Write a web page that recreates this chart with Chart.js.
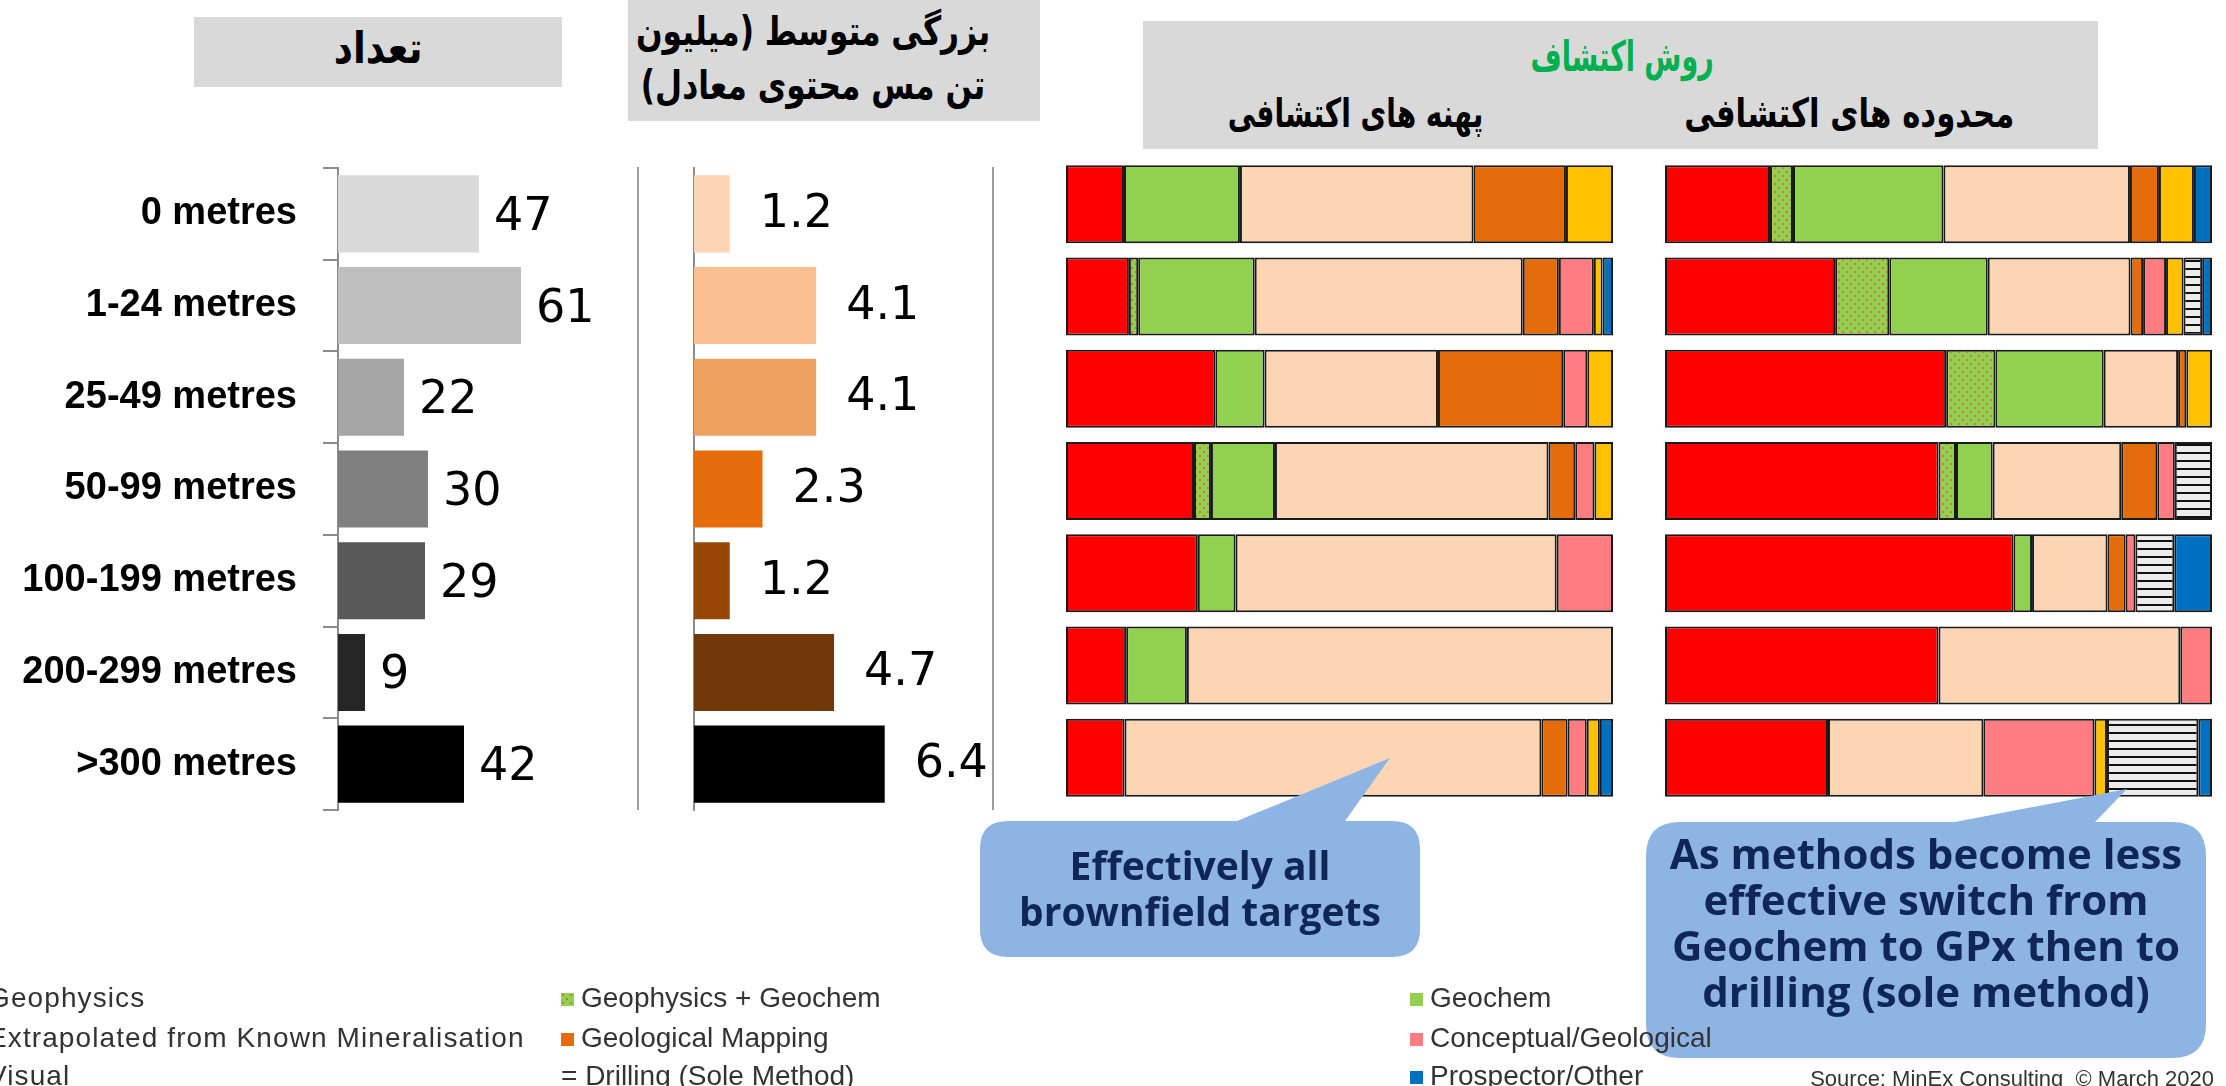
<!DOCTYPE html>
<html>
<head>
<meta charset="utf-8">
<script src="https://cdn.jsdelivr.net/npm/chart.js@4.4.1/dist/chart.umd.min.js"></script>
<style>
  body { margin: 0; width: 2226px; height: 1086px; overflow: hidden; background: #fff; position: relative; font-family: "Liberation Sans", Arial, sans-serif; }
  canvas { position: absolute; }
  .box { position: absolute; background: #d9d9d9; }
  .fa { position: absolute; font-family: "DejaVu Sans", sans-serif; font-weight: bold; direction: rtl; white-space: nowrap; text-align: center; color: #000; }
  .fa span { display: inline-block; }
  .sep { position: absolute; width: 2px; background: #9a9a9a; }
  .note { position: absolute; font-family: "Open Sans", sans-serif; font-weight: bold; color: #0f2657; text-align: center; white-space: nowrap; }
  .leg { position: absolute; font-size: 28px; color: #333; white-space: nowrap; line-height: 32px; }
  .leg i { display: inline-block; width: 13px; height: 13px; margin-right: 7px; vertical-align: 1px; }
  .wide { letter-spacing: 1.1px; }
</style>
</head>
<body>

<!-- headers -->
<div class="box" style="left:194px;top:17px;width:368px;height:70px;"></div>
<div class="fa" style="left:194px;top:22px;width:368px;font-size:44px;"><span style="transform:scaleX(0.85);">تعداد</span></div>

<div class="box" style="left:628px;top:0;width:412px;height:121px;"></div>
<div class="fa" style="left:628px;top:4px;width:412px;font-size:40px;line-height:54px;"><span style="transform:scaleX(0.78);">بزرگی متوسط (میلیون<br>تن مس محتوی معادل)</span></div>

<div class="box" style="left:1143px;top:21px;width:955px;height:128px;"></div>
<div class="fa" style="left:1422px;top:32px;width:400px;font-size:42px;color:#00b050;"><span style="transform:scaleX(0.64);">روش اکتشاف</span></div>
<div class="fa" style="left:1155px;top:90px;width:400px;font-size:40px;"><span style="transform:scaleX(0.7);">پهنه های اکتشافی</span></div>
<div class="fa" style="left:1664px;top:90px;width:400px;font-size:40px;"><span style="transform:scaleX(0.77);">محدوده های اکتشافی</span></div>

<!-- charts -->
<canvas id="countChart" width="640" height="660" style="left:0;top:160px;"></canvas>
<canvas id="sizeChart" width="352" height="660" style="left:640px;top:160px;"></canvas>
<div class="sep" style="left:637px;top:167px;height:643px;"></div>
<div class="sep" style="left:992px;top:167px;height:643px;"></div>
<canvas id="brownChart" width="555" height="662" style="left:1062px;top:150px;"></canvas>
<canvas id="greenChart" width="555" height="662" style="left:1661px;top:150px;"></canvas>

<!-- callouts -->
<svg style="position:absolute;left:0;top:0;" width="2226" height="1086">
  <path d="M1008,821 H1237 L1390,758 L1345,821 H1392 Q1420,821 1420,849 V929 Q1420,957 1392,957 H1008 Q980,957 980,929 V849 Q980,821 1008,821 Z" fill="#8eb4e3"/>
  <path d="M1680,822 H1955 L2127,789 L2095,822 H2172 Q2206,822 2206,856 V1024 Q2206,1058 2172,1058 H1680 Q1646,1058 1646,1024 V856 Q1646,822 1680,822 Z" fill="#8eb4e3"/>
</svg>
<div class="note" style="left:980px;top:842px;width:440px;font-size:39px;line-height:46px;">Effectively all<br>brownfield targets</div>
<div class="note" style="left:1646px;top:830px;width:560px;font-size:42px;line-height:46px;">As methods become less<br>effective switch from<br>Geochem to GPx then to<br>drilling (sole method)</div>

<!-- legend -->
<div class="leg wide" style="left:-32px;top:982px;"><i style="background:#ff0000"></i>Geophysics</div>
<div class="leg wide" style="left:-32px;top:1022px;"><i style="background:#fcd5b5"></i>Extrapolated from Known Mineralisation</div>
<div class="leg wide" style="left:-32px;top:1060px;"><i style="background:#ffc000"></i>Visual</div>
<div class="leg" style="left:561px;top:982px;"><i id="dotKey"></i>Geophysics + Geochem</div>
<div class="leg" style="left:561px;top:1022px;"><i style="background:#e46c0a"></i>Geological Mapping</div>
<div class="leg" style="left:561px;top:1060px;">= Drilling (Sole Method)</div>
<div class="leg" style="left:1410px;top:982px;"><i style="background:#92d050"></i>Geochem</div>
<div class="leg" style="left:1410px;top:1022px;"><i style="background:#ff7c80"></i>Conceptual/Geological</div>
<div class="leg" style="left:1410px;top:1060px;"><i style="background:#0070c0"></i>Prospector/Other</div>
<div class="leg" style="right:12px;top:1063px;font-size:22px;">Source: MinEx Consulting&nbsp; © March 2020</div>

<script>
// depth of cover classes
const depthLabels = ['0 metres', '1-24 metres', '25-49 metres', '50-99 metres', '100-199 metres', '200-299 metres', '>300 metres'];

// number of deposits and average size (Mt Cu-eq)
const depositCount = [47, 61, 22, 30, 29, 9, 42];
const avgSize = [1.2, 4.1, 4.1, 2.3, 1.2, 4.7, 6.4];

// discovery method shares (%) - brownfield (A) and greenfield (B)
const geophysicsA   = [10.6, 11.5, 27.3, 23.4, 24.1, 11.0, 10.7];
const geoGeochemA   = [0, 1.7, 0, 3.1, 0, 0, 0];
const geochemA      = [21.2, 21.3, 9.0, 11.7, 6.9, 11.1, 0];
const extrapolatedA = [42.7, 49.0, 31.7, 50.0, 58.7, 77.9, 76.2];
const mappingA      = [16.9, 6.6, 22.9, 4.9, 0, 0, 4.8];
const conceptualA   = [0, 6.4, 4.4, 3.5, 10.3, 0, 3.5];
const visualA       = [8.6, 1.6, 4.7, 3.4, 0, 0, 2.4];
const drillingA     = [0, 0, 0, 0, 0, 0, 0];
const prospectorA   = [0, 1.9, 0, 0, 0, 0, 2.4];

const geophysicsB   = [19.2, 31.1, 51.4, 50.0, 63.7, 50.0, 29.8];
const geoGeochemB   = [4.2, 9.9, 9.0, 3.2, 0, 0, 0];
const geochemB      = [27.5, 18.0, 19.8, 6.7, 3.4, 0, 0];
const extrapolatedB = [34.1, 26.1, 13.6, 23.5, 13.8, 44.2, 28.4];
const mappingB      = [5.3, 2.3, 1.5, 6.6, 3.3, 0, 0];
const conceptualB   = [0, 4.2, 0, 3.2, 1.8, 5.8, 20.3];
const visualB       = [6.4, 3.2, 4.7, 0, 0, 0, 2.3];
const drillingB     = [0, 3.4, 0, 6.8, 7.1, 0, 16.7];
const prospectorB   = [3.3, 1.8, 0, 0, 6.9, 0, 2.5];

const methodNames = ['Geophysics', 'Geophysics + Geochem', 'Geochem', 'Extrapolated from Known Mineralisation',
  'Geological Mapping', 'Conceptual/Geological', 'Visual', 'Drilling (Sole Method)', 'Prospector/Other'];

const countColors = ['#d9d9d9', '#bfbfbf', '#a6a6a6', '#808080', '#595959', '#262626', '#000000'];
const sizeColors = ['#fcd5b5', '#fac090', '#eda060', '#e46c0a', '#974806', '#71380a', '#000000'];

// hatch fills
function dotPattern() {
    const c = document.createElement('canvas');
    c.width = 8; c.height = 8;
    const g = c.getContext('2d');
    g.fillStyle = '#92d050';
    g.fillRect(0, 0, 8, 8);
    g.fillStyle = '#e2602c';
    [[2, 2], [6, 6]].forEach(p => { g.beginPath(); g.arc(p[0], p[1], 1.1, 0, Math.PI * 2); g.fill(); });
    return c;
}
function stripePattern() {
    const c = document.createElement('canvas');
    c.width = 8; c.height = 8;
    const g = c.getContext('2d');
    g.fillStyle = '#ececec';
    g.fillRect(0, 0, 8, 8);
    g.fillStyle = '#111';
    g.fillRect(0, 6, 8, 2);
    return c;
}
const dotCanvas = dotPattern();
const stripeCanvas = stripePattern();
document.getElementById('dotKey').style.background = 'url(' + dotCanvas.toDataURL() + ')';

function methodFills(ctx) {
    return ['#ff0000', ctx.createPattern(dotCanvas, 'repeat'), '#92d050', '#fcd5b5',
        '#e46c0a', '#ff7c80', '#ffc000', ctx.createPattern(stripeCanvas, 'repeat'), '#0070c0'];
}

// value labels drawn next to the bar ends
const valueLabels = {
    id: 'valueLabels',
    afterDatasetsDraw(chart, args, opts) {
        const ctx = chart.ctx;
        const meta = chart.getDatasetMeta(0);
        const values = chart.data.datasets[0].data;
        ctx.save();
        ctx.font = '46px "DejaVu Sans"';
        ctx.fillStyle = '#000';
        ctx.textAlign = 'left';
        ctx.textBaseline = 'middle';
        meta.data.forEach((bar, i) => {
            ctx.fillText(values[i].toFixed(opts.decimals), bar.x + opts.gap, bar.y + opts.dy);
        });
        ctx.restore();
    }
};

// depth vs number of deposits
new Chart(document.getElementById('countChart'), {
    type: 'bar',
    data: {
        labels: depthLabels,
        datasets: [{ data: depositCount, backgroundColor: countColors, barPercentage: 0.84, categoryPercentage: 1 }]
    },
    options: {
        indexAxis: 'y',
        responsive: false,
        animation: false,
        layout: { padding: { top: 8, bottom: 10, right: 2 } },
        plugins: { legend: { display: false }, tooltip: { enabled: false }, valueLabels: { decimals: 0, gap: 15, dy: 4 } },
        scales: {
            x: { display: false, min: 0, max: 100 },
            y: {
                afterFit: (scale) => { scale.width = 338; scale.paddingTop = 0; scale.paddingBottom = 0; },
                grid: { drawOnChartArea: false, drawTicks: true, tickLength: 15, color: '#8c8c8c', lineWidth: 2 },
                border: { display: true, color: '#8c8c8c', width: 2 },
                ticks: { padding: 26, color: '#000', font: { family: 'Liberation Sans', size: 38, weight: 'bold' } }
            }
        }
    },
    plugins: [valueLabels]
});

// depth vs average size
new Chart(document.getElementById('sizeChart'), {
    type: 'bar',
    data: {
        labels: depthLabels,
        datasets: [{ data: avgSize, backgroundColor: sizeColors, barPercentage: 0.84, categoryPercentage: 1 }]
    },
    options: {
        indexAxis: 'y',
        responsive: false,
        animation: false,
        layout: { padding: { top: 8, bottom: 10 } },
        plugins: { legend: { display: false }, tooltip: { enabled: false }, valueLabels: { decimals: 1, gap: 30, dy: 1 } },
        scales: {
            x: { display: false, min: 0, max: 10 },
            y: {
                afterFit: (scale) => { scale.width = 54; },
                grid: { display: false },
                border: { display: true, color: '#8c8c8c', width: 2 },
                ticks: { display: false }
            }
        }
    },
    plugins: [valueLabels]
});

// stacked discovery method bars
function methodChart(id, series) {
    const canvas = document.getElementById(id);
    const fills = methodFills(canvas.getContext('2d'));
    new Chart(canvas, {
        type: 'bar',
        data: {
            labels: depthLabels,
            datasets: series.map((vals, k) => ({
                label: methodNames[k],
                data: vals.map(v => (v > 0 ? v : null)),
                backgroundColor: fills[k],
                borderColor: '#1a1a1a',
                borderWidth: 2,
                borderSkipped: false,
                barPercentage: 0.845,
                categoryPercentage: 1
            }))
        },
        options: {
            indexAxis: 'y',
            responsive: false,
            animation: false,
            layout: { padding: { top: 8, bottom: 8, left: 4, right: 4 } },
            plugins: { legend: { display: false }, tooltip: { enabled: false } },
            scales: {
                x: { display: false, stacked: true, min: 0, max: 100 },
                y: { display: false, stacked: true }
            }
        }
    });
}

methodChart('brownChart', [geophysicsA, geoGeochemA, geochemA, extrapolatedA, mappingA, conceptualA, visualA, drillingA, prospectorA]);
methodChart('greenChart', [geophysicsB, geoGeochemB, geochemB, extrapolatedB, mappingB, conceptualB, visualB, drillingB, prospectorB]);
</script>
</body>
</html>
